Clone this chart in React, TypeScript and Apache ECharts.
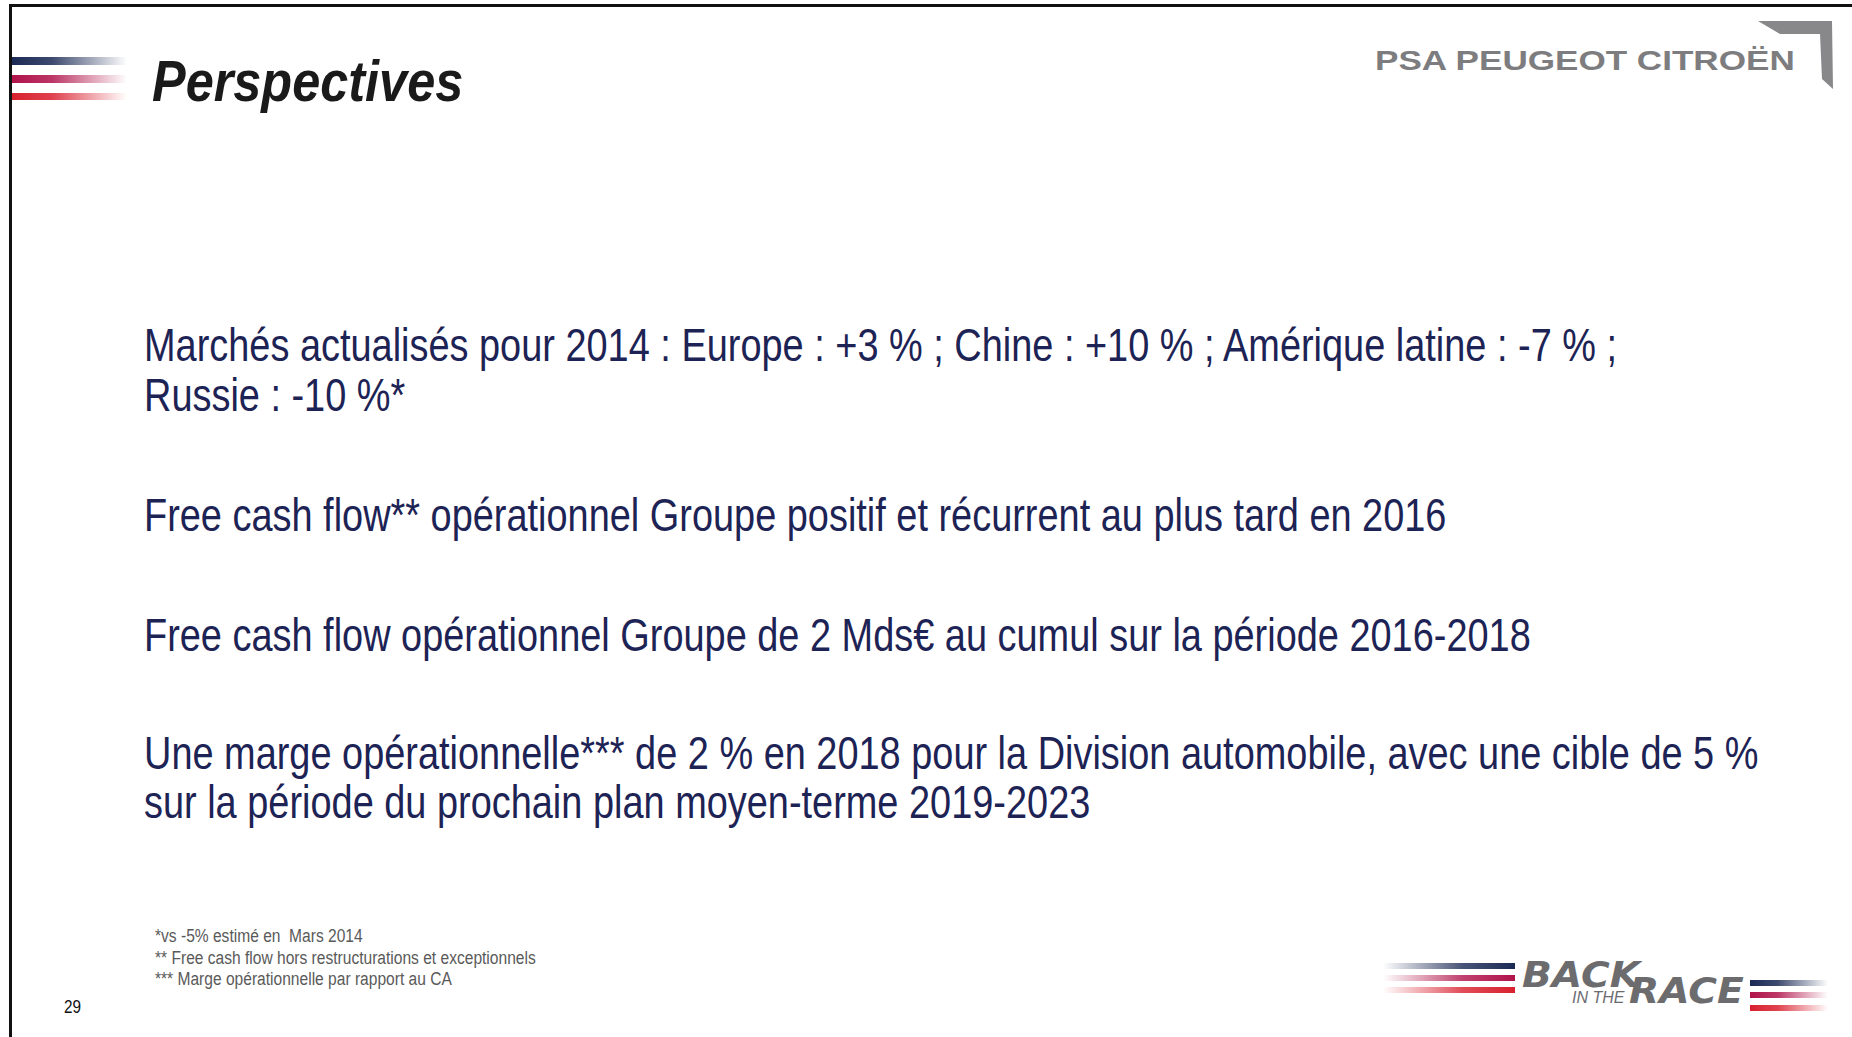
import React, { useEffect, useRef } from "react";
import * as echarts from "echarts";

const titleText = "Perspectives";
const logoText = "PSA PEUGEOT CITROËN";
const bodyLines = [
  "Marchés actualisés pour 2014 : Europe : +3 % ; Chine : +10 % ; Amérique latine : -7 % ;",
  "Russie : -10 %*",
  "Free cash flow** opérationnel Groupe positif et récurrent au plus tard en 2016",
  "Free cash flow opérationnel Groupe de 2 Mds€ au cumul sur la période 2016-2018",
  "Une marge opérationnelle*** de 2 % en 2018 pour la Division automobile, avec une cible de 5 %",
  "sur la période du prochain plan moyen-terme 2019-2023",
];
const bodyBaselines = [361, 411, 531, 651, 769, 818];
const footnotes = [
  "*vs -5% estimé en  Mars 2014",
  "** Free cash flow hors restructurations et exceptionnels",
  "*** Marge opérationnelle par rapport au CA",
];
const footBaselines = [942, 964, 985];
const pageNumber = "29";

const NAVY = "#1d2354";
const STRIPE_NAVY = "27,42,85";
const STRIPE_CRIMSON = "176,19,74";
const STRIPE_RED = "217,32,46";

function grad(rgb: string, fadeRight: boolean) {
  const solid = `rgba(${rgb},1)`;
  const clear = `rgba(${rgb},0)`;
  return {
    type: "linear",
    x: 0,
    y: 0,
    x2: 1,
    y2: 0,
    colorStops: fadeRight
      ? [
          { offset: 0, color: solid },
          { offset: 0.35, color: `rgba(${rgb},0.85)` },
          { offset: 1, color: clear },
        ]
      : [
          { offset: 0, color: clear },
          { offset: 0.6, color: `rgba(${rgb},0.8)` },
          { offset: 1, color: solid },
        ],
  };
}

function stripe(x: number, y: number, w: number, h: number, rgb: string, fadeRight: boolean) {
  return { type: "rect", shape: { x, y, width: w, height: h }, style: { fill: grad(rgb, fadeRight) }, silent: true };
}

function txt(
  text: string,
  x: number,
  baseline: number,
  size: number,
  fill: string,
  opts: { weight?: string; style?: string; scaleX?: number; family?: string; lineHeight?: number } = {}
) {
  const y = baseline - 0.3465 * size;
  const style: any = {
    text,
    fill,
    fontSize: size,
    fontFamily: opts.family ?? '"Liberation Sans", Arial, sans-serif',
    fontWeight: opts.weight ?? "normal",
    fontStyle: opts.style ?? "normal",
    align: "left",
    verticalAlign: "middle",
  };
  if (opts.lineHeight) style.lineHeight = opts.lineHeight;
  return {
    type: "text",
    x,
    y,
    scaleX: opts.scaleX ?? 1,
    style,
    silent: true,
  };
}

export default function App() {
  const ref = useRef<HTMLDivElement>(null);
  useEffect(() => {
    document.body.style.margin = "0";
    const chart = echarts.init(ref.current!, undefined, { renderer: "svg" });
    const graphic: any[] = [];
    graphic.push({ type: "rect", shape: { x: 0, y: 0, width: 1852, height: 1037 }, style: { fill: "#ffffff" }, silent: true });
    // frame
    graphic.push({ type: "rect", shape: { x: 9, y: 4, width: 1843, height: 3 }, style: { fill: "#111" }, silent: true });
    graphic.push({ type: "rect", shape: { x: 9, y: 4, width: 3, height: 1033 }, style: { fill: "#111" }, silent: true });
    // top-left stripes
    graphic.push(stripe(12, 57, 115, 8, STRIPE_NAVY, true));
    graphic.push(stripe(12, 75, 115, 8, STRIPE_CRIMSON, true));
    graphic.push(stripe(12, 93, 115, 7, STRIPE_RED, true));
    // title
    graphic.push(txt(titleText, 152, 101, 57, "#1a1a1a", { weight: "bold", style: "italic", scaleX: 0.885 }));
    // PSA logo
    graphic.push(txt(logoText, 1375, 70, 27, "#7d7d80", { weight: "bold", scaleX: 1.3 }));
    graphic.push({
      type: "polygon",
      shape: { points: [[1758, 21], [1832, 21], [1833, 89], [1822, 79], [1820, 34], [1780, 34]] },
      style: { fill: "#88888b" },
      silent: true,
    });
    // body
    bodyLines.forEach((l, i) => graphic.push(txt(l, 144, bodyBaselines[i], 47, NAVY, { scaleX: 0.807 })));
    // footnotes
    footnotes.forEach((l, i) => graphic.push(txt(l, 155, footBaselines[i], 19, "#5a5a5a", { scaleX: 0.82 })));
    graphic.push(txt(pageNumber, 64, 1013, 18, "#111", { scaleX: 0.85 }));
    // back in the race logo
    graphic.push(stripe(1383, 963, 132, 6, STRIPE_NAVY, false));
    graphic.push(stripe(1383, 975, 132, 6, STRIPE_CRIMSON, false));
    graphic.push(stripe(1383, 987, 132, 6, STRIPE_RED, false));
    const heavy = '"DejaVu Sans", "Liberation Sans", sans-serif';
    graphic.push(txt("BACK", 1522, 987, 35, "#6c6c6f", { weight: "bold", style: "italic", family: heavy, scaleX: 1.12, lineHeight: 26 }));
    graphic.push(txt("IN THE", 1572, 1003, 16, "#6c6c6f", { style: "italic", lineHeight: 12 }));
    graphic.push(txt("RACE", 1629, 1003, 35, "#6c6c6f", { weight: "bold", style: "italic", family: heavy, scaleX: 1.12, lineHeight: 26 }));
    graphic.push(stripe(1750, 980, 78, 6, STRIPE_NAVY, true));
    graphic.push(stripe(1750, 992, 78, 6, STRIPE_CRIMSON, true));
    graphic.push(stripe(1750, 1005, 78, 6, STRIPE_RED, true));

    chart.setOption({ animation: false, graphic });
    return () => chart.dispose();
  }, []);
  return <div ref={ref} style={{ position: "absolute", left: 0, top: 0, width: 1852, height: 1037 }} />;
}
